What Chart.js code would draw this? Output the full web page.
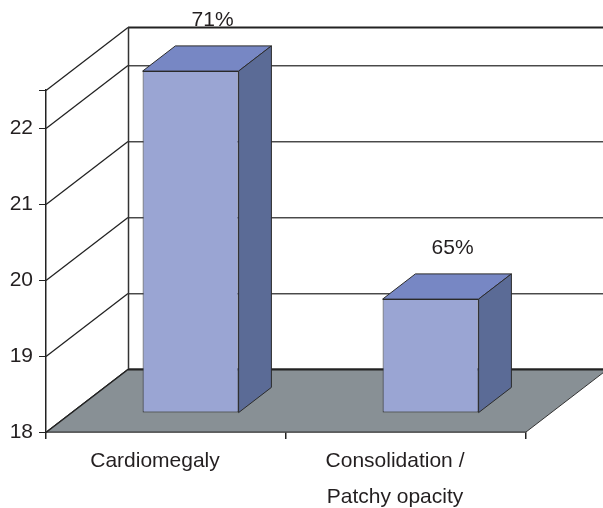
<!DOCTYPE html>
<html>
<head>
<meta charset="utf-8">
<script src="https://cdn.jsdelivr.net/npm/chart.js@4/dist/chart.umd.min.js"></script>
<style>
  html, body { margin: 0; padding: 0; background: #ffffff; }
  #wrap { width: 603px; height: 508px; position: relative; }
</style>
</head>
<body>
<div id="wrap"><canvas id="chart" width="603" height="508"></canvas></div>
<script>
// Findings per category
const categories = ['Cardiomegaly', ['Consolidation /', 'Patchy opacity']];
const values = [22.5, 19.5];
const percentLabels = ['71%', '65%'];

// Value axis range
const axisMin = 18;
const axisMax = 22.5;
const axisStep = 1;

// Pseudo-3D geometry: depth of the floor and where the columns sit in it
const DEPTH_DX = 82;
const DEPTH_DY = -63;
const COL_FRONT = 0.3;
const COL_BACK = 0.7;

const FONT = '"Liberation Sans", Arial, sans-serif';
const FONT_SIZE = 21;
const INK = '#231f20';
const FLOOR = '#889095';
const FACE_FRONT = '#9aa5d3';
const FACE_TOP = '#7787c4';
const FACE_SIDE = '#5b6b96';
const EDGE = '#2b2b2b';

function seg(ctx, x1, y1, x2, y2) {
  ctx.beginPath();
  ctx.moveTo(x1, y1);
  ctx.lineTo(x2, y2);
  ctx.stroke();
}

const box3d = {
  id: 'box3d',
  beforeDatasetsDraw(chart) {
    const { ctx, chartArea: a, scales: { y } } = chart;
    const L = a.left, R = a.right, B = a.bottom;
    ctx.save();

    // floor
    ctx.beginPath();
    ctx.moveTo(L, B);
    ctx.lineTo(R, B);
    ctx.lineTo(R + DEPTH_DX, B + DEPTH_DY);
    ctx.lineTo(L + DEPTH_DX, B + DEPTH_DY);
    ctx.closePath();
    ctx.fillStyle = FLOOR;
    ctx.fill();
    ctx.lineWidth = 1;
    ctx.strokeStyle = '#333333';
    ctx.stroke();

    // gridlines on the back wall and the side wall
    y.ticks.forEach((t) => {
      const py = Math.round(y.getPixelForValue(t.value)) + 0.5;
      const by = py + DEPTH_DY;
      const edge = t.value === axisMin || t.value === axisMax;
      if (!edge) {
        ctx.strokeStyle = '#a8a8a8';
        ctx.lineWidth = 1;
        seg(ctx, L + DEPTH_DX, by + 1, chart.width, by + 1);
      }
      ctx.strokeStyle = edge ? '#222222' : '#4a4a4a';
      ctx.lineWidth = edge ? 2 : 1;
      seg(ctx, L + DEPTH_DX, by, chart.width, by);
      ctx.strokeStyle = '#222222';
      ctx.lineWidth = 1.3;
      seg(ctx, L, py, L + DEPTH_DX, by);
    });

    // back wall left edge
    ctx.strokeStyle = '#333333';
    ctx.lineWidth = 1.5;
    const topY = y.getPixelForValue(axisMax) + DEPTH_DY;
    seg(ctx, L + DEPTH_DX + 0.5, topY, L + DEPTH_DX + 0.5, B + DEPTH_DY);
    ctx.restore();

    // columns stand part-way into the floor
    ctx.save();
    ctx.translate(DEPTH_DX * COL_FRONT, DEPTH_DY * COL_FRONT);
  },
  afterDatasetsDraw(chart) {
    const { ctx } = chart;
    const bx = DEPTH_DX * (COL_BACK - COL_FRONT);
    const by = DEPTH_DY * (COL_BACK - COL_FRONT);
    const meta = chart.getDatasetMeta(0);
    meta.data.forEach((el, i) => {
      const { x, y, base, width } = el.getProps(['x', 'y', 'base', 'width'], true);
      const l = x - width / 2, r = x + width / 2;
      ctx.lineWidth = 1;
      ctx.strokeStyle = EDGE;
      ctx.lineJoin = 'round';

      // top face
      ctx.beginPath();
      ctx.moveTo(l, y);
      ctx.lineTo(r, y);
      ctx.lineTo(r + bx, y + by);
      ctx.lineTo(l + bx, y + by);
      ctx.closePath();
      ctx.fillStyle = FACE_TOP;
      ctx.fill();
      ctx.stroke();

      // side face
      ctx.beginPath();
      ctx.moveTo(r, y);
      ctx.lineTo(r + bx, y + by);
      ctx.lineTo(r + bx, base + by);
      ctx.lineTo(r, base);
      ctx.closePath();
      ctx.fillStyle = FACE_SIDE;
      ctx.fill();
      ctx.stroke();

      // value label
      ctx.fillStyle = INK;
      ctx.font = FONT_SIZE + 'px ' + FONT;
      ctx.textAlign = 'center';
      ctx.textBaseline = 'middle';
      ctx.fillText(percentLabels[i], x + bx * 0.67, y + by - 26);
    });
    ctx.restore();
  }
};

new Chart(document.getElementById('chart'), {
  type: 'bar',
  data: {
    labels: categories,
    datasets: [{
      data: values,
      base: axisMin,
      backgroundColor: FACE_FRONT,
      borderColor: EDGE,
      borderWidth: 1,
      borderSkipped: false,
      barPercentage: 0.4,
      categoryPercentage: 1,
      clip: false
    }]
  },
  options: {
    responsive: false,
    animation: false,
    events: [],
    layout: { padding: { top: 90, right: 77, left: 0, bottom: 0 } },
    plugins: {
      legend: { display: false },
      tooltip: { enabled: false }
    },
    scales: {
      x: {
        offset: true,
        grid: {
          offset: true,
          drawOnChartArea: false,
          drawTicks: true,
          tickLength: 7,
          color: '#222222',
          lineWidth: 1.5
        },
        border: { display: true, color: '#222222', width: 1.5 },
        ticks: {
          color: INK,
          font: { family: FONT, size: FONT_SIZE, lineHeight: 1.68 },
          padding: 5,
          maxRotation: 0,
          autoSkip: false,
          labelOffset: -11
        },
        afterFit(s) { s.height = 76; }
      },
      y: {
        min: axisMin,
        max: axisMax,
        grid: {
          drawOnChartArea: false,
          drawTicks: true,
          tickLength: 7,
          color: '#222222'
        },
        border: { display: true, color: '#222222', width: 1.5 },
        ticks: {
          stepSize: axisStep,
          color: INK,
          font: { family: FONT, size: FONT_SIZE },
          padding: 6,
          callback: (v) => (Number.isInteger(v) ? String(v) : '')
        },
        afterFit(s) { s.width = 46; }
      }
    }
  },
  plugins: [box3d]
});
</script>
</body>
</html>
